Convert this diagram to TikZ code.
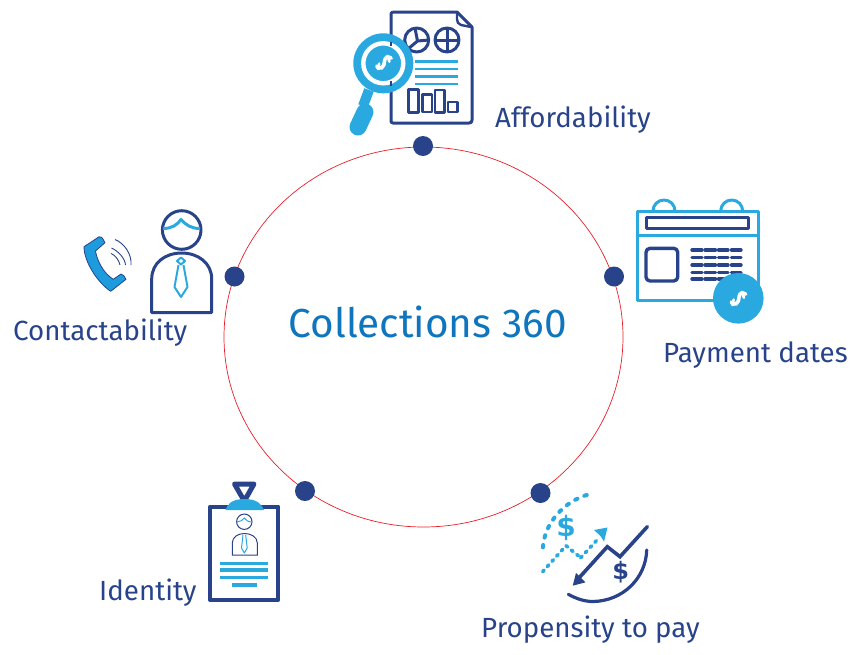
\documentclass[tikz,border=0pt]{standalone}
\usepackage{fontspec}
\setmainfont{Fira Sans}
\newfontfamily\heavyfont{DejaVu Sans}
\definecolor{navy}{HTML}{28438A}
\definecolor{sky}{HTML}{2AA9E0}
\definecolor{ctr}{HTML}{0F75BC}
\definecolor{ring}{HTML}{E8202A}
\definecolor{phone}{HTML}{1E9BDC}
\tikzset{
  lab/.style={anchor=base west,inner sep=0pt,text=navy,font=\fontsize{27.7}{32}\selectfont},
  dotn/.style={circle,fill=navy,minimum size=20pt,inner sep=0pt},
  nv/.style={draw=navy,line width=3pt,line join=round},
  sk/.style={draw=sky,line width=3pt,line join=round},
  finesk/.style={draw=sky,line width=2pt,line join=round},
  swirl/.style={draw=white,line width=3.6pt,line cap=round},
  arcdots/.style={sky,line width=4pt,line cap=round,dash pattern=on 2.5pt off 7.5pt},
  zigdots/.style={sky,line width=3.7pt,line cap=round,dash pattern=on 2pt off 5pt},
  dollar/.style={inner sep=0pt,font=\heavyfont\bfseries\fontsize{28}{28}\selectfont}
}
\newcommand{\swirlmark}[2]{%
  \begin{scope}[shift={(#1,#2)},scale=1.2]
  \draw[swirl] (6,-4) .. controls (3,-6) and (1,-5) .. (0.5,-2) .. controls (0,1) and (0,3) .. (-2,4) .. controls (-4,5) and (-6,4) .. (-6,2.5);
  \draw[swirl,line width=2.6pt] (3,-6) -- (4.5,-1);
  \draw[swirl,line width=2.6pt] (-4,0.5) -- (-5,5);
  \end{scope}
}
\begin{document}
\begin{tikzpicture}[x=1pt,y=-1pt]
\useasboundingbox (0,0) rectangle (857,654);
% main ring
\draw[ring,line width=0.7pt] (423.5,337) ellipse [x radius=199.5,y radius=190];
\node[dotn] (d1) at (423,146) {};
\node[dotn] (d2) at (614,276.5) {};
\node[dotn] (d3) at (540.5,493) {};
\node[dotn] (d4) at (305,491) {};
\node[dotn] (d5) at (234.5,276.5) {};
\node[anchor=base west,inner sep=0pt,text=ctr,font=\fontsize{40.5}{48}\selectfont] (c) at (288.5,337.5) {Collections 360};
\node[lab] (t1) at (495,127.3) {Affordability};
\node[lab] (t2) at (663,362) {Payment dates};
\node[lab] (t3) at (13,340.3) {Contactability};
\node[lab] (t4) at (99,600.3) {Identity};
\node[lab] (t5) at (481,637) {Propensity to pay};
% --- report document
\draw[nv] (393,12) -- (457,12) -- (472,27) -- (472,120) .. controls (472,122) and (471,123) .. (469,123) -- (393,123) .. controls (391,123) and (391,122) .. (391,120) -- (391,14) .. controls (391,13) and (392,12) .. (393,12);
\draw[nv,line width=2.4pt] (457,12) -- (457,19) .. controls (457,22) and (458,24) .. (461,25) -- (471,27);
\draw[nv] (416.7,40) circle (12) (447,40) circle (12);
\draw[nv] (417.5,41) -- (415,28) (417.5,41) -- (429,40) (417.5,41) -- (408,49);
\draw[nv] (447,28) -- (447,52) (435,40) -- (459,40);
\foreach \yy in {61.7,69,76.3,84} \draw[sk,line width=2.5pt] (415,\yy) -- (458,\yy);
\draw[nv,line width=2.4pt] (408.3,89.3) rectangle (418.3,112.3) (422.3,94.3) rectangle (431.7,111.7) (435,90) rectangle (444.3,112.3) (447.7,101.7) rectangle (457.3,111.7);
% magnifier
\fill[sky] (383.3,63.3) circle (30);
\draw[white,line width=4.4pt] (383.3,63.3) circle (20);
\draw[navy,line width=2.5pt] (391,41.5) -- (391,46) (391,81) -- (391,85.5);
\draw[sky,line width=10pt] (369,90) -- (363,106);
\draw[sky,line width=17pt,line cap=round] (365,112) -- (358,127);
\swirlmark{384}{63}
% --- contact person
\draw[nv] (181.7,230) circle (19.3);
\draw[sk] (163,228.5) .. controls (172,228.5) and (177,225) .. (181,219.5) .. controls (186,225) and (191,228.5) .. (200,228.5);
\draw[nv] (151.7,312.5) -- (151.7,279) .. controls (151.7,263) and (165,253) .. (181.7,253) .. controls (198,253) and (211.7,263) .. (211.7,279) -- (211.7,312.5) -- cycle;
\draw[finesk] (177,261) -- (181,257.5) -- (185,261) -- (181,264.5) -- cycle;
\draw[finesk] (178.5,265) -- (174.5,287) -- (181,297) -- (187.5,287) -- (183.5,265);
\draw[draw=navy,line width=0.8pt,fill=phone,line join=round] (84,246.7) -- (99,236.8) .. controls (101,236) and (102,237) .. (105,242.7) -- (95.5,251) .. controls (97,260) and (103,273) .. (113.3,279.3) -- (121,274) .. controls (123,274) and (125,277) .. (126,279.3) -- (110.7,291.3) .. controls (98,283) and (84,262) .. (84,246.7) -- cycle;
\draw[navy,line width=0.9pt] (115,239.5) .. controls (124,243) and (132,254) .. (131,265);
\draw[navy,line width=0.9pt] (111.5,248) .. controls (118,251) and (125,258) .. (125.5,265);
\draw[navy,line width=0.9pt] (111,253.5) .. controls (115,255) and (119,260) .. (120,265);
% --- calendar
\draw[sk] (637.3,211) rectangle (758.3,300);
\draw[sk] (637.3,235) -- (758.3,235);
\draw[sk] (653,211) arc[start angle=180,end angle=360,radius=11];
\draw[sk] (720.7,211) arc[start angle=180,end angle=360,radius=11];
\draw[nv,line width=3.4pt] (646.7,217.3) rectangle (748.3,228.3);
\draw[nv,line width=3.4pt,rounded corners=4pt] (646,248.3) rectangle (677.7,281);
\foreach \yy in {250,257.7,265,272.3,279}
  \foreach \xa/\xb in {692/702,705/715.5,718.5/728,731.5/741}
    \draw[navy,line width=3.4pt,line cap=round] (\xa,\yy) -- (\xb,\yy);
\fill[sky] (738.3,298.3) circle (25.3);
\swirlmark{738.5}{299}
% --- propensity
\draw[arcdots] (586.7,495) .. controls (566,501) and (543,522) .. (542.7,551);
\draw[zigdots] (542.7,571.7) -- (566,545.7);
\draw[zigdots] (566,545.7) -- (580.7,557.7);
\draw[zigdots] (580.7,557.7) -- (597,540);
\fill[sky] (594,530) -- (607.5,527.5) -- (604,541.5) -- (600.5,536) -- cycle;
\node[dollar,text=sky] (s1) at (566,528) {\$};
\node[dollar,text=navy,font=\heavyfont\bfseries\fontsize{24}{24}\selectfont] (s2) at (620.7,572) {\$};
\draw[navy,line width=3.6pt,line cap=round,line join=miter] (647.3,526.7) -- (620,556.7) -- (607.3,546.7) -- (578,579);
\fill[navy] (572.7,585.7) -- (585.5,582.3) -- (576,573) -- cycle;
\draw[navy,line width=3.2pt,line cap=round] (646.7,550) .. controls (646,578) and (623,601) .. (593,601.5) .. controls (584,601.5) and (576,598.5) .. (568.3,594.3);
% --- identity badge
\draw[navy,line width=4pt,line join=round] (210,506.7) rectangle (278.3,600);
\draw[navy,line width=5pt,line join=round] (234.5,484) -- (254,484) -- (244.3,501) -- cycle;
\fill[sky] (225.5,510) .. controls (227,505) and (231,499) .. (244.5,499) .. controls (258,499) and (262,505) .. (264,510) -- cycle;
\draw[navy,line width=1pt] (244.3,521.7) circle (7.7);
\draw[sky,line width=1pt] (236.8,522) .. controls (240,522) and (243,520) .. (244.3,518) .. controls (246,520) and (248,522) .. (251.8,522);
\draw[navy,line width=1pt] (232.3,555) -- (232.3,543) .. controls (232.3,537) and (238,533.5) .. (244.5,533.5) .. controls (251,533.5) and (257.3,537) .. (257.3,543) -- (257.3,555) -- cycle;
\draw[sky,line width=1pt,line join=round] (243,535) -- (241.5,548) -- (244.3,553) -- (247.2,548) -- (245.7,535);
\foreach \yy in {563.3,570,577.7} \draw[sky,line width=3.5pt] (220,\yy) -- (268.3,\yy);
\draw[sky,line width=3.5pt] (232.3,585) -- (256.7,585);
\end{tikzpicture}
\end{document}
